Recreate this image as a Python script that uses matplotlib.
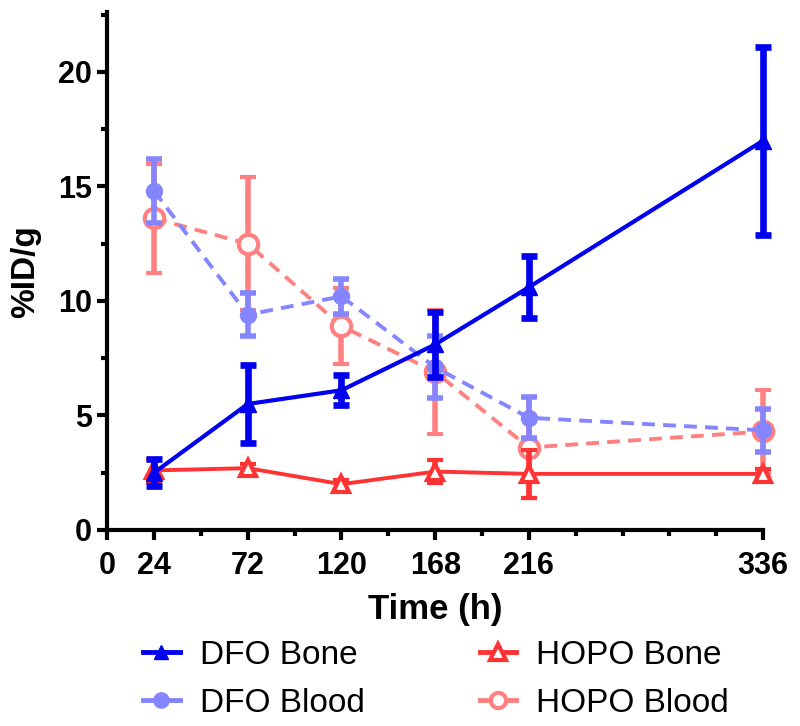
import matplotlib
matplotlib.use("Agg")
import matplotlib.pyplot as plt
from matplotlib.ticker import MultipleLocator, FixedLocator
from matplotlib.lines import Line2D

plt.rcParams['font.family'] = ['Liberation Sans', 'DejaVu Sans']

time = [24, 72, 120, 168, 216, 336]

dfo_bone = [2.5, 5.5, 6.1, 8.1, 10.6, 17.0]
dfo_bone_err = [0.6, 1.7, 0.65, 1.4, 1.35, 4.1]

dfo_blood = [14.8, 9.4, 10.2, 7.1, 4.9, 4.35]
dfo_blood_err = [1.4, 0.95, 0.75, 1.35, 0.9, 0.95]

hopo_bone = [2.6, 2.7, 2.0, 2.55, 2.45, 2.45]
hopo_bone_err = [0.5, 0.2, 0.2, 0.5, 1.05, 0.2]

hopo_blood = [13.6, 12.5, 8.9, 6.9, 3.6, 4.3]
hopo_blood_err = [2.4, 2.9, 1.65, 2.7, 2.2, 1.8]

xtick_labels = ['0', '24', '72', '120', '168', '216', '336']
xtick_pos = [0, 24, 72, 120, 168, 216, 336]

c_dfo_bone = '#0000ee'
c_dfo_blood = '#8585ff'
c_hopo_bone = '#ff3333'
c_hopo_blood = '#ff8080'

fig = plt.figure(figsize=(8, 7.26), dpi=100)
ax = fig.add_axes([0.134, 0.27, 0.82, 0.713])

common = dict(capsize=6, clip_on=False)

# HOPO Blood (bottom)
ax.errorbar(time, hopo_blood, yerr=hopo_blood_err, color=c_hopo_blood, ls='--', lw=2.8,
            dashes=(3.3, 2.1), marker='o', ms=14, mfc='white', mec=c_hopo_blood, mew=3,
            elinewidth=4, capthick=4, zorder=2, **common)
# DFO Blood
ax.errorbar(time, dfo_blood, yerr=dfo_blood_err, color=c_dfo_blood, ls='--', lw=2.8,
            dashes=(3.3, 2.1), marker='o', ms=11.5, mfc=c_dfo_blood, mec=c_dfo_blood,
            elinewidth=4, capthick=4, zorder=3, **common)
# HOPO Bone
ax.errorbar(time, hopo_bone, yerr=hopo_bone_err, color=c_hopo_bone, ls='-', lw=2.8,
            marker='^', ms=12, mfc='white', mec=c_hopo_bone, mew=3,
            elinewidth=4, capthick=4, zorder=4, **common)
# DFO Bone (top)
ax.errorbar(time, dfo_bone, yerr=dfo_bone_err, color=c_dfo_bone, ls='-', lw=3,
            marker='^', ms=11, mfc=c_dfo_bone, mec=c_dfo_bone,
            elinewidth=4.8, capthick=4.8, zorder=5, **common)

ax.set_xlim(0, 336)
ax.set_ylim(0, 22.6)
for s in ['top', 'right']:
    ax.spines[s].set_visible(False)
for s in ['left', 'bottom']:
    ax.spines[s].set_linewidth(3)
    ax.spines[s].set_capstyle('projecting')

ax.xaxis.set_major_locator(FixedLocator(xtick_pos))
ax.set_xticklabels(xtick_labels)
ax.xaxis.set_minor_locator(MultipleLocator(24))
ax.yaxis.set_major_locator(MultipleLocator(5))
ax.yaxis.set_minor_locator(MultipleLocator(2.5))
ax.tick_params(axis='both', which='major', length=7, width=3, labelsize=22, pad=4)
ax.tick_params(axis='both', which='minor', length=4, width=3)
ax.tick_params(axis='x', which='major', pad=8)
for lab in ax.get_xticklabels() + ax.get_yticklabels():
    lab.set_fontweight('bold')

ax.set_xlabel('Time (h)', fontsize=25, fontweight='bold', labelpad=9)
ax.set_ylabel('%ID/g', fontsize=24, fontweight='bold', labelpad=12)

handles = [
    Line2D([], [], color=c_dfo_bone, lw=3.5, marker='^', ms=10, mfc=c_dfo_bone, mec=c_dfo_bone),
    Line2D([], [], color=c_dfo_blood, lw=3.5, marker='o', ms=11, mfc=c_dfo_blood, mec=c_dfo_blood),
    Line2D([], [], color=c_hopo_bone, lw=3.5, marker='^', ms=11, mfc='white', mec=c_hopo_bone, mew=3),
    Line2D([], [], color=c_hopo_blood, lw=3.5, marker='o', ms=11, mfc='white', mec=c_hopo_blood, mew=3),
]
labels = ['DFO Bone', 'DFO Blood', 'HOPO Bone', 'HOPO Blood']
fig.legend(handles, labels, loc='upper left', bbox_to_anchor=(143 / 800, 1 - 640 / 726), ncol=2,
           frameon=False, fontsize=24, handlelength=1.1, columnspacing=3.45,
           handletextpad=0.6, labelspacing=0.5, borderpad=0, borderaxespad=0)

fig.savefig('out.png', dpi=100)
